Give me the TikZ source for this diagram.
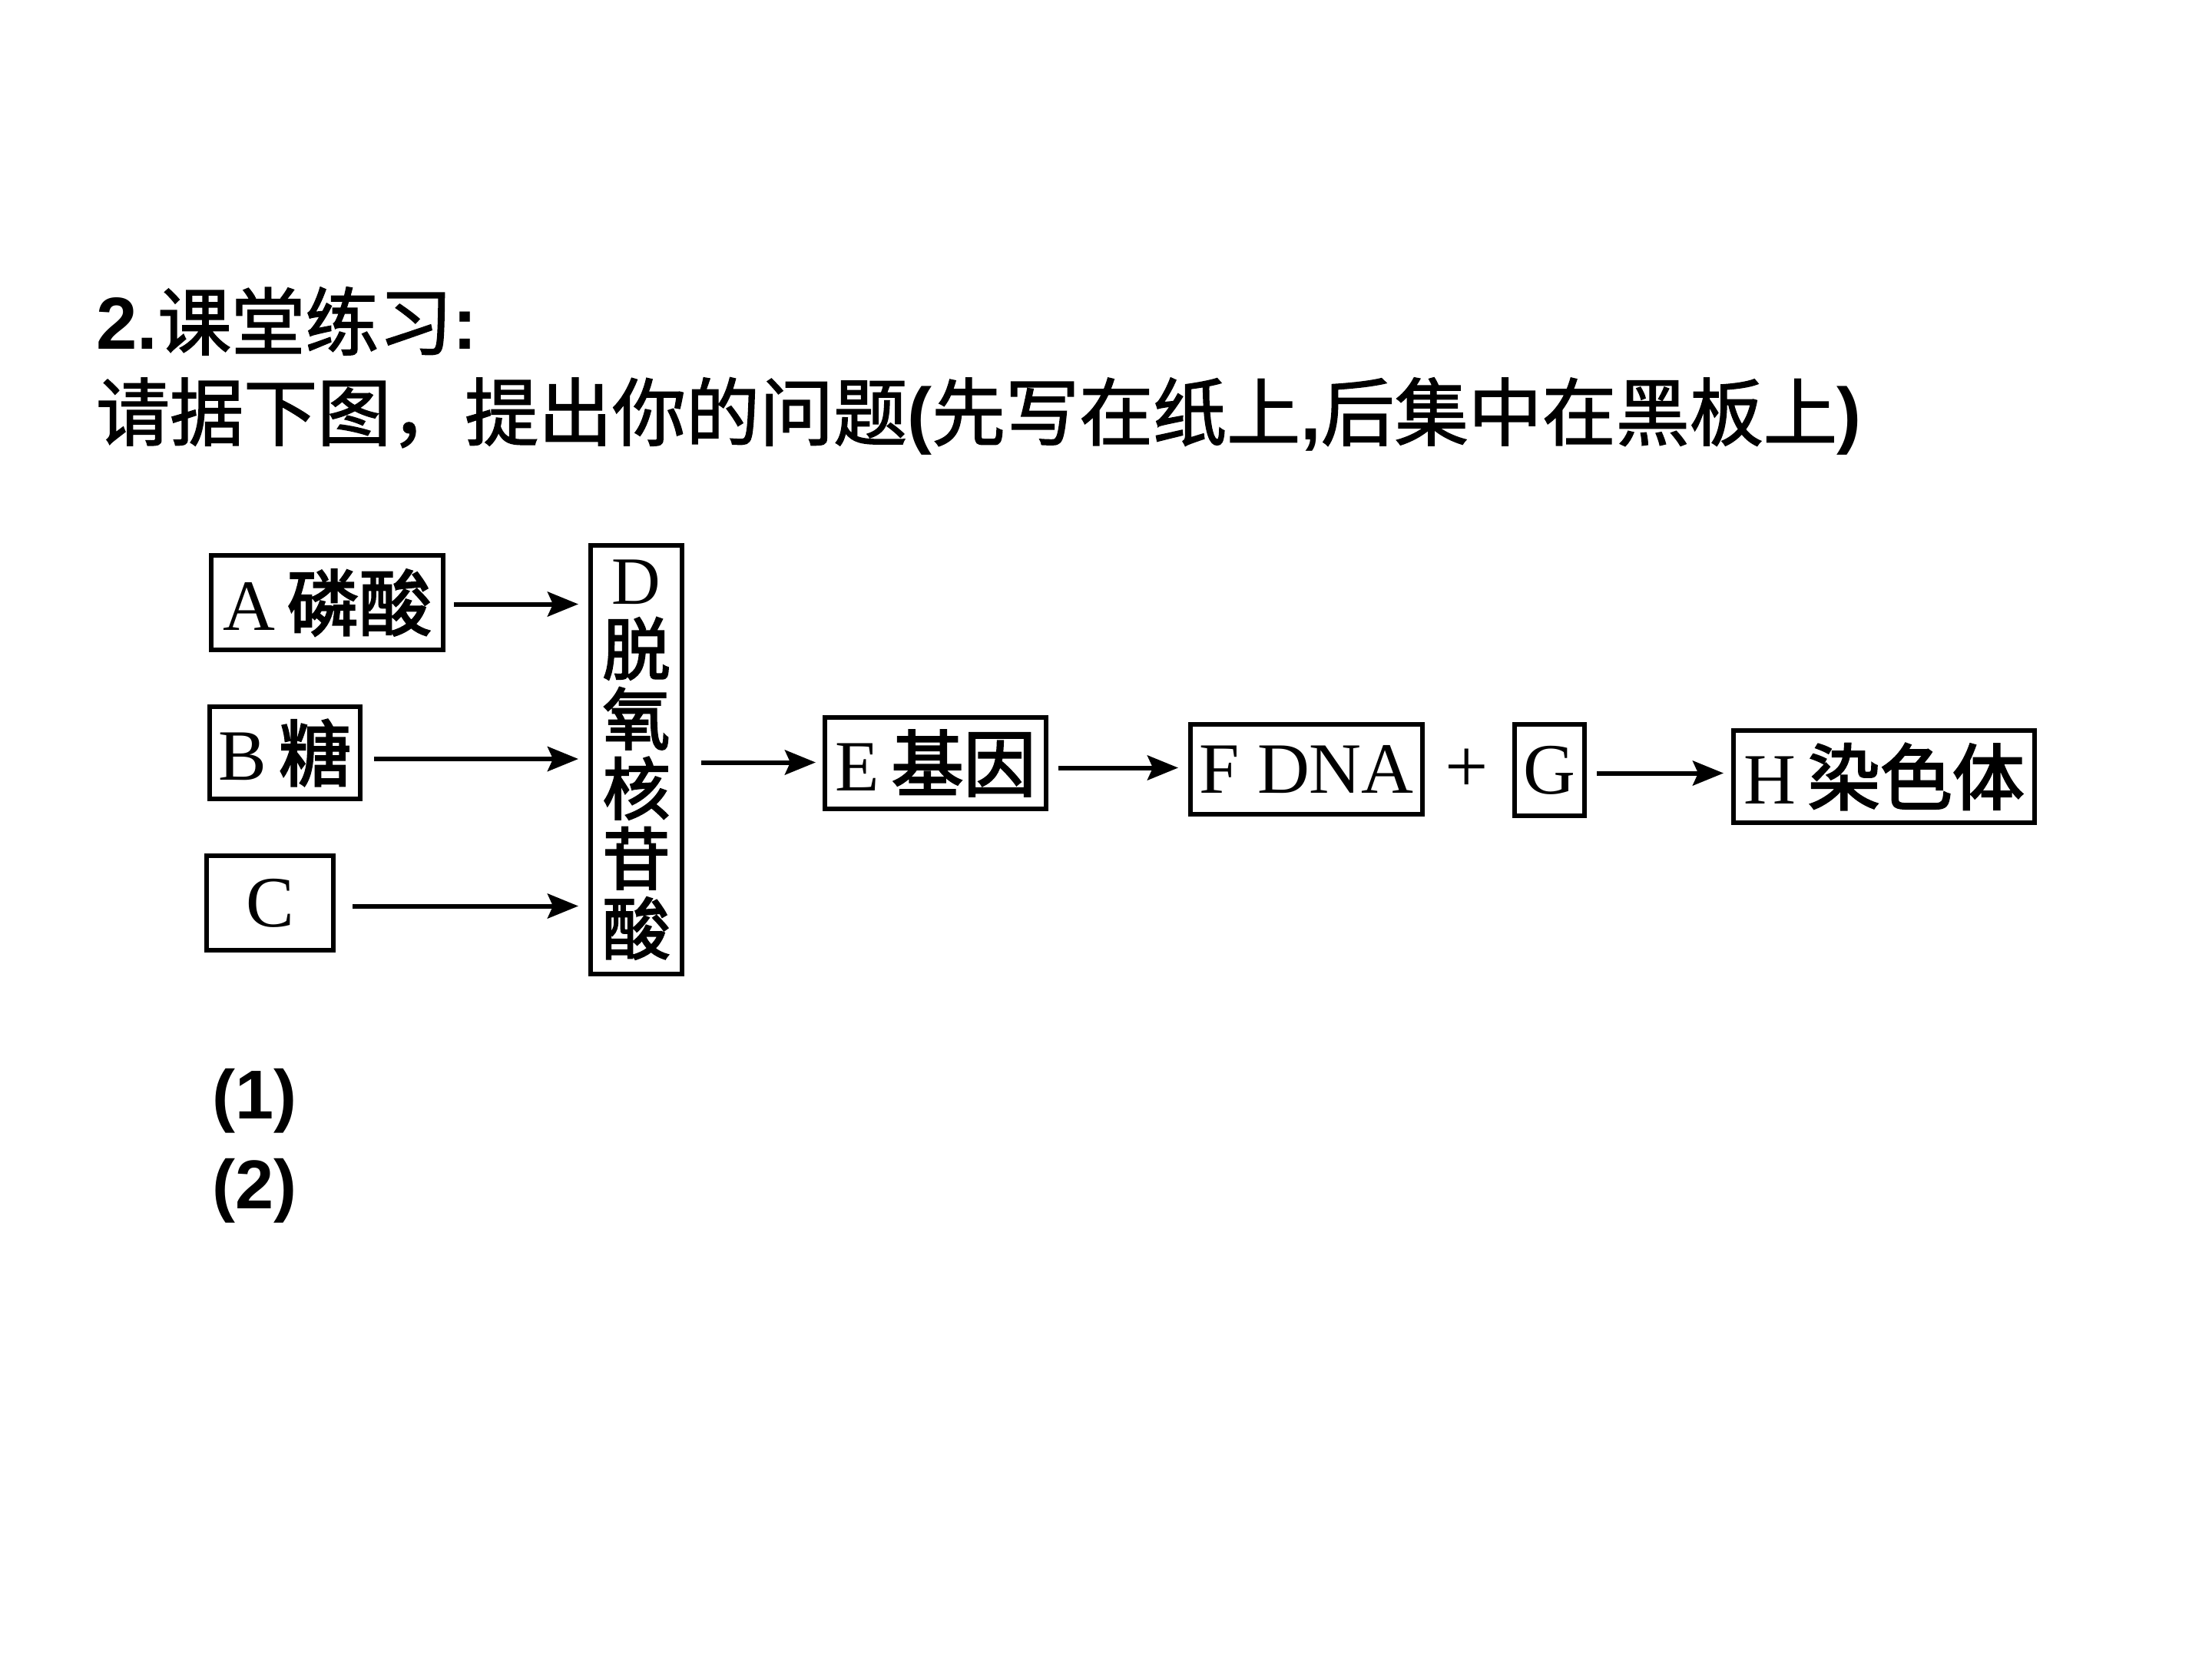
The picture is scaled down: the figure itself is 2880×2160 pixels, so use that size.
\documentclass[tikz,border=0pt]{standalone}
\usepackage{fontspec}
\setmainfont{Liberation Serif}
\newfontfamily\cjkfont{Noto Sans CJK SC}[FakeBold=1.6]
\newfontfamily\cjkboxfont{Noto Sans CJK SC}[FakeBold=2.6]
\newfontfamily\arialfont{Liberation Sans}
\newcommand\bcjk{\cjkboxfont}
\newcommand\tcjk{\cjkfont\bfseries}
\newcommand\tlat{\arialfont\bfseries}
\usetikzlibrary{arrows.meta}
\begin{document}
\begin{tikzpicture}[x=1pt,y=-1pt,
  box/.style={draw, line width=6pt, inner sep=0pt, font=\fontsize{94}{89}\selectfont},
  arr/.style={line width=6pt, -{Stealth[length=40pt,width=32pt,inset=7pt]}},
  titletext/.style={anchor=west, inner sep=0pt, font=\fontsize{96}{96}\selectfont},
  itemtext/.style={anchor=west, inner sep=0pt, font=\fontsize{90}{90}\selectfont},
]
\useasboundingbox[fill=white] (0,0) rectangle (2880,2160);

% titles
\node[titletext] (t1) at (125,418) {{\tlat 2.}{\cjkfont 课堂练习}{\tlat :}};
\node[titletext] (t2) at (125,542) {{\cjkfont 请据下图，提出你的问题}{\tlat (}{\cjkfont 先写在纸上}{\tlat ,}{\cjkfont 后集中在黑板上}{\tlat )}};

% boxes
\node[box, minimum width=302pt, minimum height=123pt] (A) at (426,784.5) {A\,{\bcjk 磷酸}};
\node[box, minimum width=196pt, minimum height=120pt] (B) at (371,980) {B\,{\bcjk 糖}};
\node[box, minimum width=165pt, minimum height=123pt] (C) at (351.5,1175.5) {C};
\node[box, minimum width=119pt, minimum height=558pt, align=center, font=\fontsize{88}{91}\selectfont] (D) at (828.5,989)
  {D\\{\bcjk 脱}\\{\bcjk 氧}\\{\bcjk 核}\\{\bcjk 苷}\\{\bcjk 酸}};
\node[box, minimum width=288pt, minimum height=119pt] (E) at (1218,993.5) {E\,{\bcjk 基因}};
\node[box, minimum width=302pt, minimum height=117pt] (F) at (1701,1001.5) {F DNA};
\node[inner sep=0pt, font=\fontsize{100}{100}\selectfont] (plus) at (1910,1003) {+};
\node[box, minimum width=91pt, minimum height=119pt] (G) at (2017.5,1002.5) {G};
\node[box, minimum width=392pt, minimum height=120pt] (H) at (2453,1011) {H\,{\bcjk 染色体}};

% arrows
\draw[arr, shorten <=11pt, shorten >=13pt] ([yshift=-2pt]A.east) -- ([yshift=-2pt]A.east -| D.west);
\draw[arr, shorten <=15pt, shorten >=13pt] ([yshift=-8pt]B.east) -- ([yshift=-8pt]B.east -| D.west);
\draw[arr, shorten <=22pt, shorten >=13pt] ([yshift=-4pt]C.east) -- ([yshift=-4pt]C.east -| D.west);
\draw[arr, shorten <=22pt, shorten >=9pt] ([yshift=1pt]E.west -| D.east) -- ([yshift=1pt]E.west);
\draw[arr, shorten <=13pt, shorten >=13pt] ([yshift=2pt]F.west -| E.east) -- ([yshift=2pt]F.west);
\draw[arr, shorten <=13pt, shorten >=10pt] ([yshift=-4pt]G.east) -- ([yshift=-4pt]G.east -| H.west);

% items
\node[itemtext] (q1) at (276,1433) {\tlat (1)};
\node[itemtext] (q2) at (276,1550) {\tlat (2)};
\end{tikzpicture}
\end{document}
